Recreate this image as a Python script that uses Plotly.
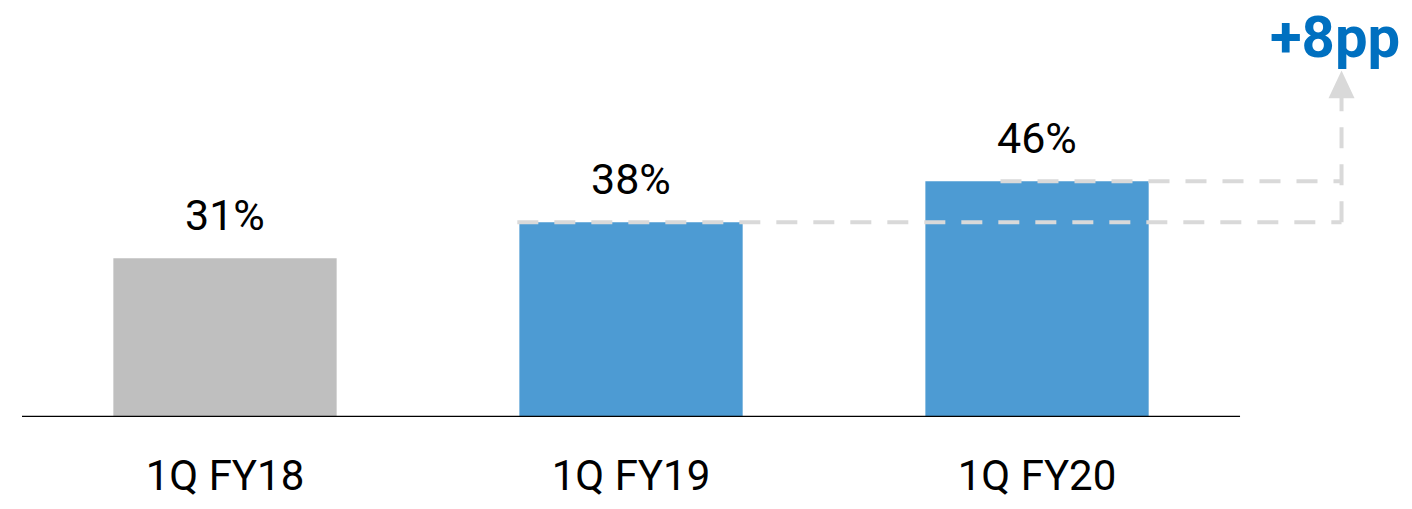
import plotly.graph_objects as go

# Share of quarter, first quarter of each fiscal year
categories = ["1Q FY18", "1Q FY19", "1Q FY20"]
values = [31, 38, 46]
bar_colors = ["#BFBFBF", "#4D9BD3", "#4D9BD3"]

FONT = "Roboto"
DASH_COLOR = "#D9D9D9"
DASH = "21px,16px"

x_idx = list(range(len(categories)))
prev_val, last_val = values[-2], values[-1]
delta = last_val - prev_val
arrow_x = 2.75

fig = go.Figure()
fig.add_trace(go.Bar(
    x=x_idx, y=values, width=0.55,
    marker=dict(color=bar_colors, line=dict(width=0)),
    hoverinfo="skip",
))

shapes = [
    # baseline
    dict(type="line", xref="x", yref="y", x0=-0.5, x1=2.5, y0=0, y1=0,
         line=dict(color="#000000", width=2.5), layer="above"),
    # reference line from previous year's level
    dict(type="line", xref="x", yref="y", x0=1 - 0.28, x1=arrow_x, y0=prev_val, y1=prev_val,
         line=dict(color=DASH_COLOR, width=4, dash=DASH), layer="above"),
    # reference line from latest level
    dict(type="line", xref="x", yref="y", x0=1.91, x1=arrow_x, y0=last_val, y1=last_val,
         line=dict(color=DASH_COLOR, width=4, dash=DASH), layer="above"),
    # vertical connector
    dict(type="line", xref="x", yref="y", x0=arrow_x, x1=arrow_x, y0=prev_val, y1=62.4,
         line=dict(color=DASH_COLOR, width=4, dash=DASH), layer="above"),
    # arrow head
    dict(type="path", xref="x", yref="y",
         path=f"M {arrow_x - 0.032} 62.2 L {arrow_x + 0.032} 62.2 L {arrow_x} 67.6 Z",
         fillcolor=DASH_COLOR, line=dict(width=0), layer="above"),
]

annotations = [
    dict(x=i, y=v, xref="x", yref="y", text=f"{v}%", showarrow=False,
         yanchor="bottom", yshift=16, font=dict(family=FONT, size=43, color="#000000"))
    for i, v in zip(x_idx, values)
]
annotations.append(dict(
    x=2.735, y=74.2, xref="x", yref="y", text=f"<b>+{delta}pp</b>", showarrow=False,
    xanchor="center", yanchor="middle",
    font=dict(family=FONT, size=58, color="#0070C0"),
))

fig.update_layout(
    width=1412, height=509,
    margin=dict(l=22, r=12, t=7, b=92),
    paper_bgcolor="#FFFFFF", plot_bgcolor="#FFFFFF",
    showlegend=False,
    shapes=shapes,
    annotations=annotations,
    xaxis=dict(
        range=[-0.5, 2.894], tickmode="array", tickvals=x_idx, ticktext=categories,
        showgrid=False, zeroline=False, showline=False, ticks="",
        tickfont=dict(family=FONT, size=42, color="#000000"),
        ticklabelstandoff=30,
    ),
    yaxis=dict(range=[0, 80], visible=False, showgrid=False, zeroline=False),
)

fig.write_html("out.html")
